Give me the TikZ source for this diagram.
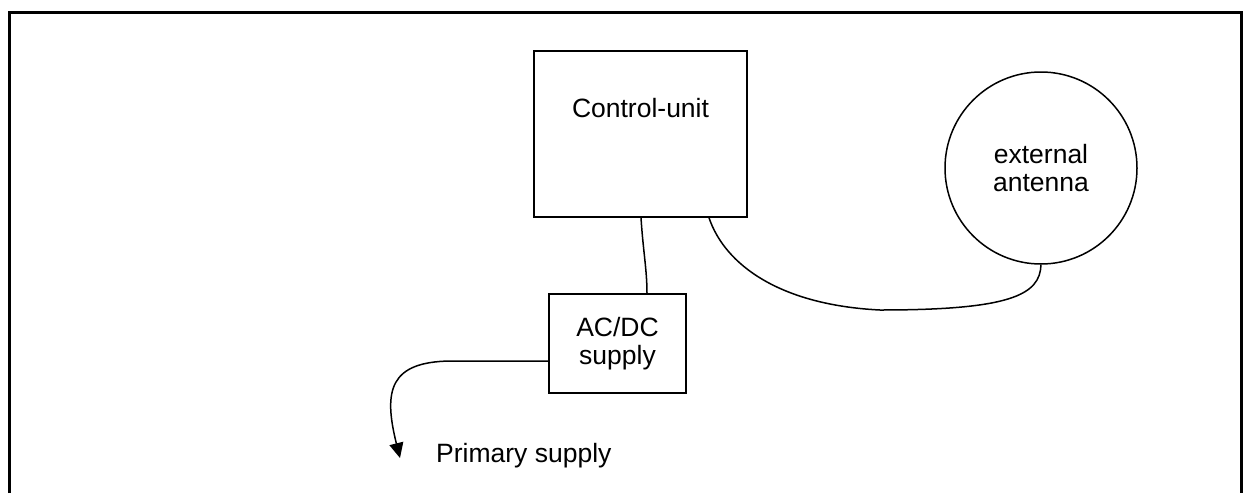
\documentclass[tikz,border=0pt]{standalone}
\usepackage{fontspec}
\setmainfont{Liberation Sans}
\usetikzlibrary{calc,arrows.meta}

\begin{document}
\begin{tikzpicture}[x=1pt,y=-1pt,
  unit/.style={draw,line width=1.5pt,inner sep=0pt},
  wire/.style={line width=1.5pt},
  txt/.style={font=\fontsize{26.5}{28}\selectfont,align=center,inner sep=0pt}]
  \useasboundingbox (0,0) rectangle (1248,493);
  \draw [line width=3pt](9,493)--(9,12)--(1241,12)--(1241,493);
  \node [unit,minimum width=213pt,minimum height=166pt] (cu) at (640.5,134) {};
  \node [txt] (cutext) at (640.5,108) {Control-unit};
  \node [unit,minimum width=137pt,minimum height=99pt,txt] (ac) at (617.5,343.5) {AC/DC\\supply};
  \node [unit,circle,minimum size=192pt,txt] (ant) at (1041,168) {external\\antenna};
  \node [txt,anchor=base west] (prim) at (436,462) {Primary supply};
  \coordinate (cuA) at ([xshift=0.5pt]cu.south);
  \coordinate (acA) at ([xshift=29.5pt]ac.north);
  \coordinate (cuB) at ([xshift=68.5pt]cu.south);
  \coordinate (acB) at ([yshift=-17.5pt]ac.west);
  \draw [wire](cuA) .. controls (643,250) and (647,270) .. (acA);
  \draw [wire](cuB) .. controls (725,265) and (780,305) .. (880,310)
    .. controls (1010,310) and (1040,295) .. (ant.south);
  \draw [wire,-{Triangle[length=15pt,width=14pt]}](acB)--(450,361)
    .. controls (390,362) and (383,390) .. (400,458);
\end{tikzpicture}
\end{document}
